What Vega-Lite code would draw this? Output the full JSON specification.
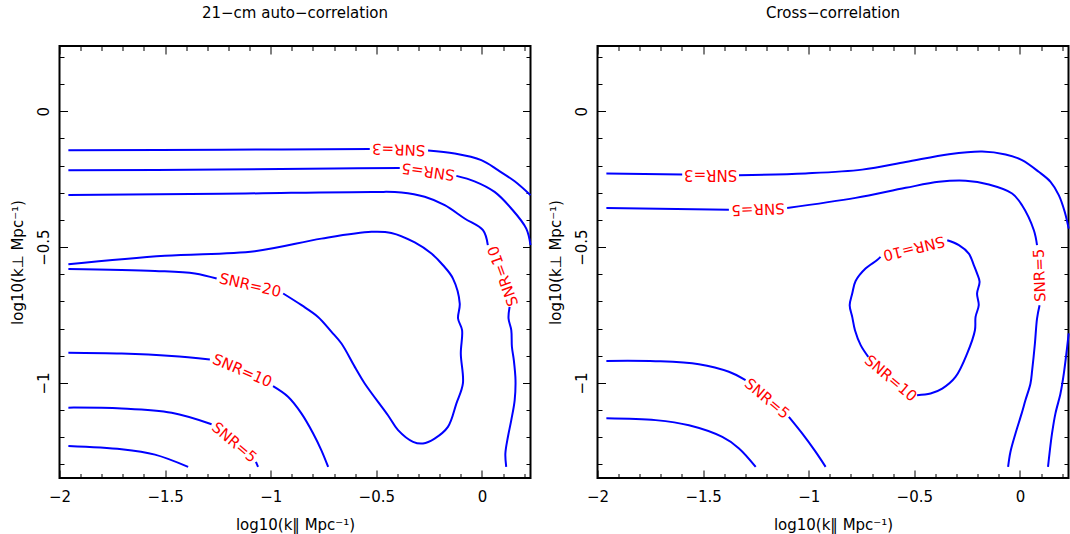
{
"$schema": "https://vega.github.io/schema/vega-lite/v6.json",
"autosize": "none",
"padding": {"left": 59.5, "top": 46, "right": 1010.5, "bottom": 488},
"bounds": "flush",
"spacing": 67,
"config": {
  "font": "DejaVu Sans",
  "view": {"stroke": "black", "strokeWidth": 2},
  "axis": {"domain": false, "grid": false, "tickColor": "black", "tickWidth": 1, "labelColor": "black", "labelFontSize": 15, "titleFontSize": 15, "titleFontWeight": "normal", "titleColor": "black", "labelFlush": false, "labelOverlap": false}
},
"datasets": {
"lines": [
{"p":"L","s":"L3a","o":1,"x":-1.958,"y":-0.144},{"p":"L","s":"L3a","o":2,"x":-1.233,"y":-0.142},{"p":"L","s":"L3a","o":3,"x":-0.531,"y":-0.139},
{"p":"L","s":"L3b","o":1,"x":-0.255,"y":-0.145},{"p":"L","s":"L3b","o":2,"x":-0.129,"y":-0.156},{"p":"L","s":"L3b","o":3,"x":-0.003,"y":-0.180},{"p":"L","s":"L3b","o":4,"x":0.076,"y":-0.217},{"p":"L","s":"L3b","o":5,"x":0.155,"y":-0.258},{"p":"L","s":"L3b","o":6,"x":0.230,"y":-0.309},
{"p":"L","s":"L5a","o":1,"x":-1.958,"y":-0.217},{"p":"L","s":"L5a","o":2,"x":-1.233,"y":-0.215},{"p":"L","s":"L5a","o":3,"x":-0.700,"y":-0.211},{"p":"L","s":"L5a","o":4,"x":-0.389,"y":-0.209},
{"p":"L","s":"L5b","o":1,"x":-0.121,"y":-0.238},{"p":"L","s":"L5b","o":2,"x":-0.035,"y":-0.258},{"p":"L","s":"L5b","o":3,"x":0.060,"y":-0.297},{"p":"L","s":"L5b","o":4,"x":0.139,"y":-0.358},{"p":"L","s":"L5b","o":5,"x":0.210,"y":-0.432},{"p":"L","s":"L5b","o":6,"x":0.230,"y":-0.493},
{"p":"L","s":"L10a","o":1,"x":-1.958,"y":-0.308},{"p":"L","s":"L10a","o":2,"x":-1.233,"y":-0.304},{"p":"L","s":"L10a","o":3,"x":-0.508,"y":-0.297},{"p":"L","s":"L10a","o":4,"x":-0.381,"y":-0.299},{"p":"L","s":"L10a","o":5,"x":-0.271,"y":-0.315},{"p":"L","s":"L10a","o":6,"x":-0.176,"y":-0.346},{"p":"L","s":"L10a","o":7,"x":-0.082,"y":-0.395},{"p":"L","s":"L10a","o":8,"x":0.005,"y":-0.438},{"p":"L","s":"L10a","o":9,"x":0.028,"y":-0.493},
{"p":"L","s":"L10b","o":1,"x":0.131,"y":-0.720},{"p":"L","s":"L10b","o":2,"x":0.126,"y":-0.763},{"p":"L","s":"L10b","o":3,"x":0.139,"y":-0.806},{"p":"L","s":"L10b","o":4,"x":0.142,"y":-0.867},{"p":"L","s":"L10b","o":5,"x":0.151,"y":-0.916},{"p":"L","s":"L10b","o":6,"x":0.159,"y":-0.990},{"p":"L","s":"L10b","o":7,"x":0.155,"y":-1.064},{"p":"L","s":"L10b","o":8,"x":0.139,"y":-1.137},{"p":"L","s":"L10b","o":9,"x":0.123,"y":-1.199},{"p":"L","s":"L10b","o":10,"x":0.111,"y":-1.260},{"p":"L","s":"L10b","o":11,"x":0.115,"y":-1.309},
{"p":"L","s":"L20a","o":1,"x":-1.958,"y":-0.563},{"p":"L","s":"L20a","o":2,"x":-1.501,"y":-0.532},{"p":"L","s":"L20a","o":3,"x":-1.075,"y":-0.515},{"p":"L","s":"L20a","o":4,"x":-0.760,"y":-0.469},{"p":"L","s":"L20a","o":5,"x":-0.523,"y":-0.444},{"p":"L","s":"L20a","o":6,"x":-0.429,"y":-0.448},{"p":"L","s":"L20a","o":7,"x":-0.318,"y":-0.483},{"p":"L","s":"L20a","o":8,"x":-0.239,"y":-0.524},{"p":"L","s":"L20a","o":9,"x":-0.184,"y":-0.567},{"p":"L","s":"L20a","o":10,"x":-0.137,"y":-0.616},{"p":"L","s":"L20a","o":11,"x":-0.105,"y":-0.708},{"p":"L","s":"L20a","o":12,"x":-0.113,"y":-0.763},{"p":"L","s":"L20a","o":13,"x":-0.094,"y":-0.806},{"p":"L","s":"L20a","o":14,"x":-0.100,"y":-0.892},{"p":"L","s":"L20a","o":15,"x":-0.090,"y":-1.002},{"p":"L","s":"L20a","o":16,"x":-0.121,"y":-1.076},{"p":"L","s":"L20a","o":17,"x":-0.161,"y":-1.162},{"p":"L","s":"L20a","o":18,"x":-0.224,"y":-1.205},{"p":"L","s":"L20a","o":19,"x":-0.279,"y":-1.223},{"p":"L","s":"L20a","o":20,"x":-0.326,"y":-1.217},{"p":"L","s":"L20a","o":21,"x":-0.397,"y":-1.174},{"p":"L","s":"L20a","o":22,"x":-0.445,"y":-1.119},{"p":"L","s":"L20a","o":23,"x":-0.555,"y":-1.002},{"p":"L","s":"L20a","o":24,"x":-0.602,"y":-0.941},{"p":"L","s":"L20a","o":25,"x":-0.665,"y":-0.855},{"p":"L","s":"L20a","o":26,"x":-0.712,"y":-0.812},{"p":"L","s":"L20a","o":27,"x":-0.776,"y":-0.757},{"p":"L","s":"L20a","o":28,"x":-0.854,"y":-0.714},{"p":"L","s":"L20a","o":29,"x":-0.941,"y":-0.671},
{"p":"L","s":"L20b","o":1,"x":-1.256,"y":-0.616},{"p":"L","s":"L20b","o":2,"x":-1.359,"y":-0.597},{"p":"L","s":"L20b","o":3,"x":-1.548,"y":-0.588},{"p":"L","s":"L20b","o":4,"x":-1.958,"y":-0.581},
{"p":"L","s":"L10c","o":1,"x":-1.958,"y":-0.889},{"p":"L","s":"L10c","o":2,"x":-1.706,"y":-0.892},{"p":"L","s":"L10c","o":3,"x":-1.469,"y":-0.901},{"p":"L","s":"L10c","o":4,"x":-1.288,"y":-0.914},
{"p":"L","s":"L10d","o":1,"x":-0.989,"y":-1.012},{"p":"L","s":"L10d","o":2,"x":-0.918,"y":-1.051},{"p":"L","s":"L10d","o":3,"x":-0.854,"y":-1.113},{"p":"L","s":"L10d","o":4,"x":-0.799,"y":-1.186},{"p":"L","s":"L10d","o":5,"x":-0.760,"y":-1.248},{"p":"L","s":"L10d","o":6,"x":-0.728,"y":-1.309},
{"p":"L","s":"L5c","o":1,"x":-1.958,"y":-1.091},{"p":"L","s":"L5c","o":2,"x":-1.706,"y":-1.094},{"p":"L","s":"L5c","o":3,"x":-1.469,"y":-1.110},{"p":"L","s":"L5c","o":4,"x":-1.280,"y":-1.152},
{"p":"L","s":"L5d","o":1,"x":-1.070,"y":-1.291},{"p":"L","s":"L5d","o":2,"x":-1.060,"y":-1.309},
{"p":"L","s":"L3c","o":1,"x":-1.958,"y":-1.232},{"p":"L","s":"L3c","o":2,"x":-1.706,"y":-1.244},{"p":"L","s":"L3c","o":3,"x":-1.548,"y":-1.264},{"p":"L","s":"L3c","o":4,"x":-1.391,"y":-1.309},
{"p":"R","s":"R3a","o":1,"x":-1.958,"y":-0.229},{"p":"R","s":"R3a","o":2,"x":-1.599,"y":-0.233},
{"p":"R","s":"R3b","o":1,"x":-1.330,"y":-0.236},{"p":"R","s":"R3b","o":2,"x":-1.015,"y":-0.229},{"p":"R","s":"R3b","o":3,"x":-0.747,"y":-0.215},{"p":"R","s":"R3b","o":4,"x":-0.541,"y":-0.187},{"p":"R","s":"R3b","o":5,"x":-0.336,"y":-0.158},{"p":"R","s":"R3b","o":6,"x":-0.179,"y":-0.148},{"p":"R","s":"R3b","o":7,"x":-0.068,"y":-0.159},{"p":"R","s":"R3b","o":8,"x":0.010,"y":-0.180},{"p":"R","s":"R3b","o":9,"x":0.089,"y":-0.223},{"p":"R","s":"R3b","o":10,"x":0.145,"y":-0.260},{"p":"R","s":"R3b","o":11,"x":0.184,"y":-0.309},{"p":"R","s":"R3b","o":12,"x":0.212,"y":-0.370},{"p":"R","s":"R3b","o":13,"x":0.231,"y":-0.432},
{"p":"R","s":"R3c","o":1,"x":0.231,"y":-0.818},{"p":"R","s":"R3c","o":2,"x":0.208,"y":-0.965},{"p":"R","s":"R3c","o":3,"x":0.192,"y":-1.039},{"p":"R","s":"R3c","o":4,"x":0.168,"y":-1.113},{"p":"R","s":"R3c","o":5,"x":0.152,"y":-1.186},{"p":"R","s":"R3c","o":6,"x":0.140,"y":-1.260},{"p":"R","s":"R3c","o":7,"x":0.133,"y":-1.309},
{"p":"R","s":"R5a","o":1,"x":-1.958,"y":-0.356},{"p":"R","s":"R5a","o":2,"x":-1.378,"y":-0.363},
{"p":"R","s":"R5b","o":1,"x":-1.102,"y":-0.356},{"p":"R","s":"R5b","o":2,"x":-0.778,"y":-0.319},{"p":"R","s":"R5b","o":3,"x":-0.541,"y":-0.282},{"p":"R","s":"R5b","o":4,"x":-0.384,"y":-0.260},{"p":"R","s":"R5b","o":5,"x":-0.257,"y":-0.256},{"p":"R","s":"R5b","o":6,"x":-0.147,"y":-0.270},{"p":"R","s":"R5b","o":7,"x":-0.037,"y":-0.303},{"p":"R","s":"R5b","o":8,"x":0.010,"y":-0.346},{"p":"R","s":"R5b","o":9,"x":0.066,"y":-0.438},{"p":"R","s":"R5b","o":10,"x":0.081,"y":-0.493},
{"p":"R","s":"R5c","o":1,"x":0.093,"y":-0.714},{"p":"R","s":"R5c","o":2,"x":0.081,"y":-0.763},{"p":"R","s":"R5c","o":3,"x":0.071,"y":-0.855},{"p":"R","s":"R5c","o":4,"x":0.058,"y":-0.953},{"p":"R","s":"R5c","o":5,"x":0.050,"y":-1.002},{"p":"R","s":"R5c","o":6,"x":0.026,"y":-1.064},{"p":"R","s":"R5c","o":7,"x":0.008,"y":-1.113},{"p":"R","s":"R5c","o":8,"x":-0.021,"y":-1.186},{"p":"R","s":"R5c","o":9,"x":-0.045,"y":-1.254},{"p":"R","s":"R5c","o":10,"x":-0.056,"y":-1.309},
{"p":"R","s":"R10a","o":1,"x":-0.344,"y":-0.475},{"p":"R","s":"R10a","o":2,"x":-0.289,"y":-0.493},{"p":"R","s":"R10a","o":3,"x":-0.242,"y":-0.524},{"p":"R","s":"R10a","o":4,"x":-0.218,"y":-0.567},{"p":"R","s":"R10a","o":5,"x":-0.203,"y":-0.597},{"p":"R","s":"R10a","o":6,"x":-0.191,"y":-0.628},{"p":"R","s":"R10a","o":7,"x":-0.203,"y":-0.671},{"p":"R","s":"R10a","o":8,"x":-0.195,"y":-0.714},{"p":"R","s":"R10a","o":9,"x":-0.210,"y":-0.757},{"p":"R","s":"R10a","o":10,"x":-0.213,"y":-0.806},{"p":"R","s":"R10a","o":11,"x":-0.250,"y":-0.892},{"p":"R","s":"R10a","o":12,"x":-0.305,"y":-0.978},{"p":"R","s":"R10a","o":13,"x":-0.368,"y":-1.021},{"p":"R","s":"R10a","o":14,"x":-0.423,"y":-1.039},{"p":"R","s":"R10a","o":15,"x":-0.487,"y":-1.045},
{"p":"R","s":"R10b","o":1,"x":-0.718,"y":-0.904},{"p":"R","s":"R10b","o":2,"x":-0.754,"y":-0.861},{"p":"R","s":"R10b","o":3,"x":-0.781,"y":-0.806},{"p":"R","s":"R10b","o":4,"x":-0.794,"y":-0.757},{"p":"R","s":"R10b","o":5,"x":-0.806,"y":-0.714},{"p":"R","s":"R10b","o":6,"x":-0.794,"y":-0.671},{"p":"R","s":"R10b","o":7,"x":-0.778,"y":-0.625},{"p":"R","s":"R10b","o":8,"x":-0.731,"y":-0.579},{"p":"R","s":"R10b","o":9,"x":-0.676,"y":-0.548},{"p":"R","s":"R10b","o":10,"x":-0.660,"y":-0.536},
{"p":"R","s":"R5d","o":1,"x":-1.958,"y":-0.919},{"p":"R","s":"R5d","o":2,"x":-1.725,"y":-0.920},{"p":"R","s":"R5d","o":3,"x":-1.520,"y":-0.931},{"p":"R","s":"R5d","o":4,"x":-1.378,"y":-0.959},{"p":"R","s":"R5d","o":5,"x":-1.299,"y":-0.990},
{"p":"R","s":"R5e","o":1,"x":-1.094,"y":-1.125},{"p":"R","s":"R5e","o":2,"x":-1.031,"y":-1.186},{"p":"R","s":"R5e","o":3,"x":-0.967,"y":-1.254},{"p":"R","s":"R5e","o":4,"x":-0.920,"y":-1.309},
{"p":"R","s":"R3d","o":1,"x":-1.958,"y":-1.130},{"p":"R","s":"R3d","o":2,"x":-1.725,"y":-1.137},{"p":"R","s":"R3d","o":3,"x":-1.567,"y":-1.156},{"p":"R","s":"R3d","o":4,"x":-1.409,"y":-1.199},{"p":"R","s":"R3d","o":5,"x":-1.330,"y":-1.241},{"p":"R","s":"R3d","o":6,"x":-1.251,"y":-1.309}
],
"labels": [
{"p":"L","t":"SNR=3","x":-0.394,"y":-0.141,"a":182},
{"p":"L","t":"SNR=5","x":-0.255,"y":-0.222,"a":188},
{"p":"L","t":"SNR=10","x":0.100,"y":-0.607,"a":250},
{"p":"L","t":"SNR=20","x":-1.097,"y":-0.640,"a":13},
{"p":"L","t":"SNR=10","x":-1.134,"y":-0.955,"a":23},
{"p":"L","t":"SNR=5","x":-1.172,"y":-1.219,"a":40},
{"p":"R","t":"SNR=3","x":-1.464,"y":-0.236,"a":180},
{"p":"R","t":"SNR=5","x":-1.240,"y":-0.361,"a":178},
{"p":"R","t":"SNR=10","x":-0.502,"y":-0.505,"a":166},
{"p":"R","t":"SNR=10","x":-0.612,"y":-0.983,"a":40},
{"p":"R","t":"SNR=5","x":0.093,"y":-0.604,"a":268},
{"p":"R","t":"SNR=5","x":-1.197,"y":-1.058,"a":40}
]
},
"hconcat": [
{
 "title": {"text": "21−cm auto−correlation", "fontSize": 15, "fontWeight": "normal", "baseline": "alphabetic", "offset": 13, "color": "black"},
 "width": 471, "height": 432,
 "layer": [
  {"data": {"name": "lines"}, "transform": [{"filter": "datum.p == 'L'"}],
   "mark": {"type": "line", "color": "#0000ff", "strokeWidth": 2, "interpolate": "catmull-rom"},
   "encoding": {
    "x": {"field": "x", "type": "quantitative", "scale": {"domain": [-2, 0.23], "nice": false, "zero": false},
      "axis": {"orient": "bottom", "values": [-2,-1.9,-1.8,-1.7,-1.6,-1.5,-1.4,-1.3,-1.2,-1.1,-1,-0.9,-0.8,-0.7,-0.6,-0.5,-0.4,-0.3,-0.2,-0.1,0,0.1,0.2], "format": "~g",
        "labelExpr": "abs(datum.value*2 - round(datum.value*2)) < 0.001 ? datum.label : ''",
        "tickSize": {"condition": {"test": "abs(datum.value*2 - round(datum.value*2)) < 0.001", "value": -8}, "value": -4.5},
        "labelPadding": 19, "title": "log10(k‖ Mpc⁻¹)", "titleX": 235.5, "titleY": 39, "titleBaseline": "top", "titleAlign": "center"}},
    "y": {"field": "y", "type": "quantitative", "scale": {"domain": [-1.35, 0.24], "nice": false, "zero": false},
      "axis": {"orient": "left", "values": [-1.3,-1.2,-1.1,-1,-0.9,-0.8,-0.7,-0.6,-0.5,-0.4,-0.3,-0.2,-0.1,0,0.1,0.2], "format": "~g",
        "labelExpr": "abs(datum.value*2 - round(datum.value*2)) < 0.001 ? datum.label : ''",
        "tickSize": {"condition": {"test": "abs(datum.value*2 - round(datum.value*2)) < 0.001", "value": -8}, "value": -4.5},
        "labelAngle": 270, "labelAlign": "center", "labelBaseline": "bottom", "labelPadding": 16,
        "title": "log10(k⊥ Mpc⁻¹)", "titleX": -34, "titleY": 216, "titleAngle": 270, "titleBaseline": "bottom", "titleAlign": "center"}},
    "detail": {"field": "s"},
    "order": {"field": "o", "type": "quantitative"}
   }},
  {"data": {"name": "labels"}, "transform": [{"filter": "datum.p == 'L'"}],
   "mark": {"type": "text", "color": "#ff0000", "fontSize": 15, "align": "center", "baseline": "middle"},
   "encoding": {
    "x": {"field": "x", "type": "quantitative", "scale": {"domain": [-2, 0.23], "nice": false, "zero": false},
      "axis": {"orient": "top", "values": [-2,-1.9,-1.8,-1.7,-1.6,-1.5,-1.4,-1.3,-1.2,-1.1,-1,-0.9,-0.8,-0.7,-0.6,-0.5,-0.4,-0.3,-0.2,-0.1,0,0.1,0.2], "labels": false, "title": null,
        "tickSize": {"condition": {"test": "abs(datum.value*2 - round(datum.value*2)) < 0.001", "value": -8}, "value": -4.5}}},
    "y": {"field": "y", "type": "quantitative", "scale": {"domain": [-1.35, 0.24], "nice": false, "zero": false},
      "axis": {"orient": "right", "values": [-1.3,-1.2,-1.1,-1,-0.9,-0.8,-0.7,-0.6,-0.5,-0.4,-0.3,-0.2,-0.1,0,0.1,0.2], "labels": false, "title": null,
        "tickSize": {"condition": {"test": "abs(datum.value*2 - round(datum.value*2)) < 0.001", "value": -8}, "value": -4.5}}},
    "text": {"field": "t"},
    "angle": {"field": "a", "type": "quantitative", "scale": null}
   }}
 ],
 "resolve": {"axis": {"x": "independent", "y": "independent"}}
},
{
 "title": {"text": "Cross−correlation", "fontSize": 15, "fontWeight": "normal", "baseline": "alphabetic", "offset": 13, "color": "black"},
 "width": 471, "height": 432,
 "layer": [
  {"data": {"name": "lines"}, "transform": [{"filter": "datum.p == 'R'"}],
   "mark": {"type": "line", "color": "#0000ff", "strokeWidth": 2, "interpolate": "catmull-rom"},
   "encoding": {
    "x": {"field": "x", "type": "quantitative", "scale": {"domain": [-2, 0.23], "nice": false, "zero": false},
      "axis": {"orient": "bottom", "values": [-2,-1.9,-1.8,-1.7,-1.6,-1.5,-1.4,-1.3,-1.2,-1.1,-1,-0.9,-0.8,-0.7,-0.6,-0.5,-0.4,-0.3,-0.2,-0.1,0,0.1,0.2], "format": "~g",
        "labelExpr": "abs(datum.value*2 - round(datum.value*2)) < 0.001 ? datum.label : ''",
        "tickSize": {"condition": {"test": "abs(datum.value*2 - round(datum.value*2)) < 0.001", "value": -8}, "value": -4.5},
        "labelPadding": 19, "title": "log10(k‖ Mpc⁻¹)", "titleX": 235.5, "titleY": 39, "titleBaseline": "top", "titleAlign": "center"}},
    "y": {"field": "y", "type": "quantitative", "scale": {"domain": [-1.35, 0.24], "nice": false, "zero": false},
      "axis": {"orient": "left", "values": [-1.3,-1.2,-1.1,-1,-0.9,-0.8,-0.7,-0.6,-0.5,-0.4,-0.3,-0.2,-0.1,0,0.1,0.2], "format": "~g",
        "labelExpr": "abs(datum.value*2 - round(datum.value*2)) < 0.001 ? datum.label : ''",
        "tickSize": {"condition": {"test": "abs(datum.value*2 - round(datum.value*2)) < 0.001", "value": -8}, "value": -4.5},
        "labelAngle": 270, "labelAlign": "center", "labelBaseline": "bottom", "labelPadding": 16,
        "title": "log10(k⊥ Mpc⁻¹)", "titleX": -34, "titleY": 216, "titleAngle": 270, "titleBaseline": "bottom", "titleAlign": "center"}},
    "detail": {"field": "s"},
    "order": {"field": "o", "type": "quantitative"}
   }},
  {"data": {"name": "labels"}, "transform": [{"filter": "datum.p == 'R'"}],
   "mark": {"type": "text", "color": "#ff0000", "fontSize": 15, "align": "center", "baseline": "middle"},
   "encoding": {
    "x": {"field": "x", "type": "quantitative", "scale": {"domain": [-2, 0.23], "nice": false, "zero": false},
      "axis": {"orient": "top", "values": [-2,-1.9,-1.8,-1.7,-1.6,-1.5,-1.4,-1.3,-1.2,-1.1,-1,-0.9,-0.8,-0.7,-0.6,-0.5,-0.4,-0.3,-0.2,-0.1,0,0.1,0.2], "labels": false, "title": null,
        "tickSize": {"condition": {"test": "abs(datum.value*2 - round(datum.value*2)) < 0.001", "value": -8}, "value": -4.5}}},
    "y": {"field": "y", "type": "quantitative", "scale": {"domain": [-1.35, 0.24], "nice": false, "zero": false},
      "axis": {"orient": "right", "values": [-1.3,-1.2,-1.1,-1,-0.9,-0.8,-0.7,-0.6,-0.5,-0.4,-0.3,-0.2,-0.1,0,0.1,0.2], "labels": false, "title": null,
        "tickSize": {"condition": {"test": "abs(datum.value*2 - round(datum.value*2)) < 0.001", "value": -8}, "value": -4.5}}},
    "text": {"field": "t"},
    "angle": {"field": "a", "type": "quantitative", "scale": null}
   }}
 ],
 "resolve": {"axis": {"x": "independent", "y": "independent"}}
}
]
}
